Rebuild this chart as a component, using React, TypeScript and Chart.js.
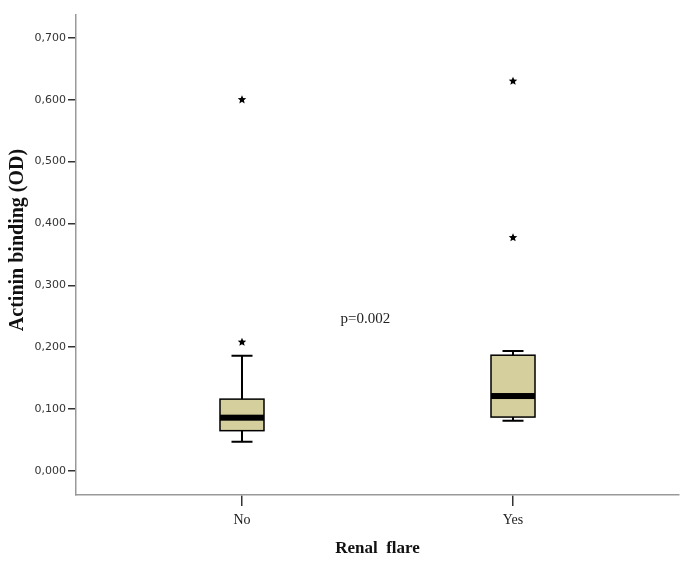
import React, { useEffect, useRef } from "react";
import { Chart, registerables } from "chart.js";

Chart.register(...registerables);

const categories = ["No", "Yes"];
const whiskerLow = [0.047, 0.081];
const q1 = [0.065, 0.087];
const median = [0.086, 0.121];
const q3 = [0.116, 0.187];
const whiskerHigh = [0.186, 0.194];
const outliers = [
  [0.208, 0.6],
  [0.377, 0.63],
];
const yTicks = [0, 0.1, 0.2, 0.3, 0.4, 0.5, 0.6, 0.7];
const xTitle = "Renal  flare";
const yTitle = "Actinin binding (OD)";
const annotationText = "p=0.002";
const annotationPos = { x: 0.455, y: 0.246 };

const fmt = (v: number) => v.toFixed(3).replace(".", ",");

function drawStar(ctx: CanvasRenderingContext2D, cx: number, cy: number, r: number) {
  ctx.beginPath();
  for (let i = 0; i < 10; i++) {
    const rad = i % 2 === 0 ? r : r * 0.45;
    const a = -Math.PI / 2 + (i * Math.PI) / 5;
    const px = cx + rad * Math.cos(a);
    const py = cy + rad * Math.sin(a);
    if (i === 0) ctx.moveTo(px, py);
    else ctx.lineTo(px, py);
  }
  ctx.closePath();
  ctx.fill();
}

const boxPlugin = {
  id: "boxPlugin",
  afterDatasetsDraw(chart: any) {
    const ctx = chart.ctx as CanvasRenderingContext2D;
    const xs = chart.scales.x;
    const ys = chart.scales.y;
    ctx.save();
    categories.forEach((_, i) => {
      const cx = xs.getPixelForValue(i);
      const boxW = 44;
      const capW = 21;
      const yq1 = ys.getPixelForValue(q1[i]);
      const yq3 = ys.getPixelForValue(q3[i]);
      const ymed = ys.getPixelForValue(median[i]);
      const ylo = ys.getPixelForValue(whiskerLow[i]);
      const yhi = ys.getPixelForValue(whiskerHigh[i]);
      ctx.strokeStyle = "#000";
      ctx.lineWidth = 2;
      ctx.beginPath();
      ctx.moveTo(cx, yhi);
      ctx.lineTo(cx, yq3);
      ctx.moveTo(cx, yq1);
      ctx.lineTo(cx, ylo);
      ctx.moveTo(cx - capW / 2, yhi);
      ctx.lineTo(cx + capW / 2, yhi);
      ctx.moveTo(cx - capW / 2, ylo);
      ctx.lineTo(cx + capW / 2, ylo);
      ctx.stroke();
      ctx.fillStyle = "#d5cf9e";
      ctx.fillRect(cx - boxW / 2, yq3, boxW, yq1 - yq3);
      ctx.lineWidth = 1.5;
      ctx.strokeRect(cx - boxW / 2, yq3, boxW, yq1 - yq3);
      ctx.fillStyle = "#000";
      ctx.fillRect(cx - boxW / 2, ymed - 3, boxW, 6);
      outliers[i].forEach((v) => {
        drawStar(ctx, cx, ys.getPixelForValue(v), 4.5);
      });
    });
    ctx.fillStyle = "#222";
    ctx.font = "15px 'Liberation Serif', serif";
    ctx.textAlign = "center";
    ctx.textBaseline = "middle";
    ctx.fillText(annotationText, xs.getPixelForValue(annotationPos.x), ys.getPixelForValue(annotationPos.y));
    ctx.save();
    ctx.translate(18, 240);
    ctx.rotate(-Math.PI / 2);
    ctx.fillStyle = "#111";
    ctx.font = "bold 20px 'Liberation Serif', serif";
    ctx.fillText(yTitle, 0, 0);
    ctx.restore();
    ctx.restore();
  },
};

export default function App() {
  const ref = useRef<HTMLCanvasElement>(null);
  useEffect(() => {
    document.body.style.margin = "0";
    const chart = new Chart(ref.current!, {
      type: "scatter",
      data: { datasets: [{ data: [], pointRadius: 0 }] },
      options: {
        animation: false,
        responsive: false,
        layout: { padding: { top: 15, right: 6, left: 0, bottom: 0 } },
        plugins: { legend: { display: false }, tooltip: { enabled: false } },
        scales: {
          x: {
            type: "linear",
            min: -0.6125,
            max: 1.6125,
            afterBuildTicks: (s: any) => {
              s.ticks = categories.map((_, i) => ({ value: i }));
            },
            afterFit: (s: any) => {
              s.height = 76;
            },
            ticks: {
              callback: (v: any) => categories[Number(v)] ?? "",
              font: { family: "'Liberation Serif', serif", size: 14 },
              color: "#222",
              padding: 6,
              autoSkip: false,
              maxRotation: 0,
            },
            grid: { drawOnChartArea: false, drawTicks: true, tickLength: 11, color: "#333", lineWidth: 1.5 },
            border: { color: "#999", width: 1.5 },
            title: {
              display: true,
              text: xTitle,
              font: { family: "'Liberation Serif', serif", size: 17, weight: "bold" },
              color: "#111",
              padding: { bottom: 12, top: 0 },
            },
          },
          y: {
            type: "linear",
            min: -0.039,
            max: 0.737,
            afterBuildTicks: (s: any) => {
              s.ticks = yTicks.map((v) => ({ value: v }));
            },
            afterFit: (s: any) => {
              s.width = 76;
            },
            ticks: {
              callback: (v: any) => fmt(Number(v)),
              font: { family: "'DejaVu Sans', sans-serif", size: 11 },
              color: "#333",
              padding: 2,
            },
            grid: { drawOnChartArea: false, drawTicks: true, tickLength: 8, color: "#333", lineWidth: 1.5 },
            border: { color: "#999", width: 1.5 },
            title: { display: false },
          },
        },
      },
      plugins: [boxPlugin],
    } as any);
    return () => chart.destroy();
  }, []);
  return <canvas ref={ref} width={685} height={571} style={{ display: "block" }} />;
}
